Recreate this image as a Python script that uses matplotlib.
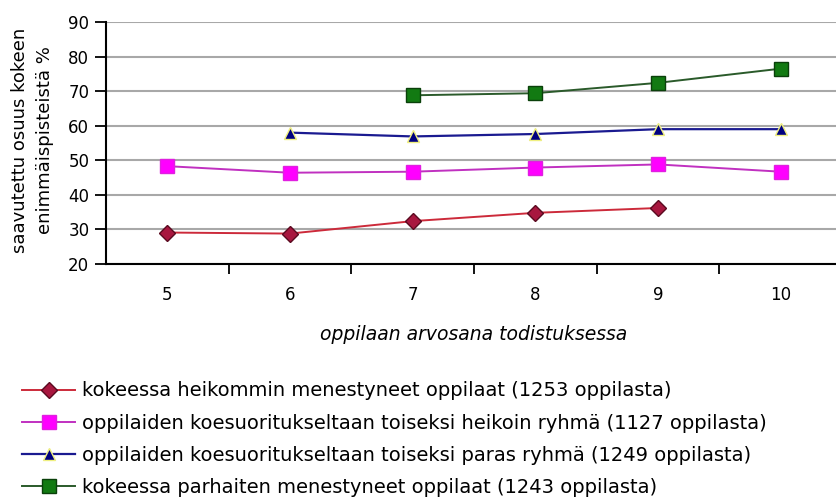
import matplotlib
matplotlib.use("Agg")
import matplotlib.pyplot as plt
from matplotlib.ticker import FixedLocator

plt.rcParams['font.family'] = ['DejaVu Sans']

grades = ['5', '6', '7', '8', '9', '10']
heikoimmat = [29.1, 28.8, 32.4, 34.8, 36.2, None]
toiseksi_heikoin = [48.3, 46.4, 46.7, 47.9, 48.8, 46.7]
toiseksi_paras = [None, 58.0, 56.9, 57.6, 59.0, 59.0]
parhaat = [None, None, 68.8, 69.4, 72.4, 76.5]

labels = [
    'kokeessa heikommin menestyneet oppilaat (1253 oppilasta)',
    'oppilaiden koesuoritukseltaan toiseksi heikoin ryhmä (1127 oppilasta)',
    'oppilaiden koesuoritukseltaan toiseksi paras ryhmä (1249 oppilasta)',
    'kokeessa parhaiten menestyneet oppilaat (1243 oppilasta)',
]
yticks = [20, 30, 40, 50, 60, 70, 80, 90]

fig = plt.figure(figsize=(8.36, 5.0), dpi=100)
W, H = 836, 500
ax = fig.add_axes([106 / W, 1 - 264 / H, (842 - 106) / W, (264 - 22) / H])

x = list(range(len(grades)))

def series(vals):
    xs = [i for i, v in zip(x, vals) if v is not None]
    ys = [v for v in vals if v is not None]
    return xs, ys

styles = [
    dict(color='#cc2a3a', marker='D', markersize=8, markerfacecolor='#a8173f', markeredgecolor='#5a0a20', lw=1.4),
    dict(color='#c030c0', marker='s', markersize=10, markerfacecolor='#ff00ff', markeredgecolor='#e020e0', lw=1.4),
    dict(color='#1a1a90', marker='^', markersize=8, markerfacecolor='#000080', markeredgecolor='#f0f080', lw=1.6),
    dict(color='#2a5a2a', marker='s', markersize=10, markerfacecolor='#127a12', markeredgecolor='#0a400a', lw=1.4),
]
handles = []
for vals, st in zip([heikoimmat, toiseksi_heikoin, toiseksi_paras, parhaat], styles):
    xs, ys = series(vals)
    h, = ax.plot(xs, ys, **st, zorder=3)
    handles.append(h)

ax.set_xlim(-0.5, len(grades) - 0.5)
ax.set_ylim(20, 90)
ax.set_yticks(yticks)
ax.set_yticklabels([str(t) for t in yticks], fontsize=12)
ax.yaxis.grid(True, color='#a8a8a8', lw=1.5)
ax.set_axisbelow(True)

ax.set_xticks(x)
ax.set_xticklabels(grades, fontsize=12)
ax.tick_params(axis='x', which='major', length=0, pad=16)
ax.xaxis.set_minor_locator(FixedLocator([i + 0.5 for i in x]))
ax.tick_params(axis='x', which='minor', length=7, width=1.3, direction='out', color='black')
ax.tick_params(axis='y', length=8, width=1.3, direction='out', pad=4)

for s in ['top', 'right']:
    ax.spines[s].set_visible(False)
ax.spines['left'].set_linewidth(1.5)
ax.spines['bottom'].set_linewidth(1.5)

ax.set_xlabel('oppilaan arvosana todistuksessa', fontsize=13.5, style='italic', labelpad=15)

fig.text(20 / W, 1 - 140 / H, 'saavutettu osuus kokeen', rotation=90, ha='center', va='center', fontsize=13)
fig.text(45 / W, 1 - 140 / H, 'enimmäispisteistä %', rotation=90, ha='center', va='center', fontsize=13)

fig.legend(handles, labels, loc='upper left', bbox_to_anchor=(22 / W, 1 - 381.5 / H),
           frameon=False, fontsize=14, handlelength=2.75, handletextpad=0.35,
           labelspacing=0.67, borderpad=0, borderaxespad=0)

fig.savefig('out.png', dpi=100)
